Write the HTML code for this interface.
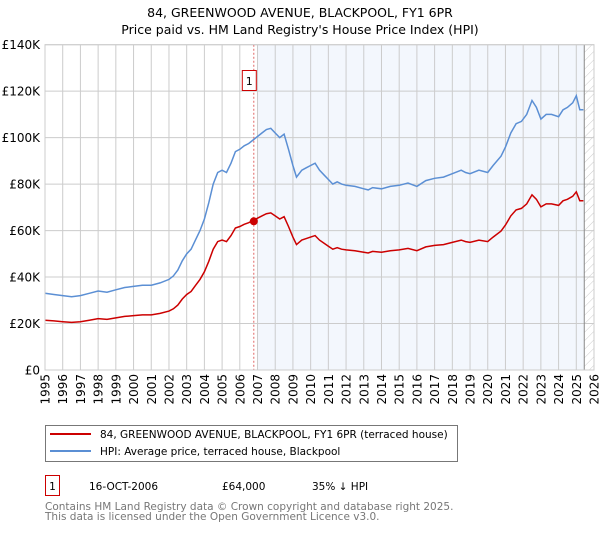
<!DOCTYPE html>
<html><head><meta charset="utf-8"><style>
body{margin:0;background:#fff;font-family:"Liberation Sans","DejaVu Sans",sans-serif;}
svg text{font-family:"DejaVu Sans","Liberation Sans",sans-serif;}
</style></head><body>
<svg id="c" width="600" height="530" xmlns="http://www.w3.org/2000/svg">
<defs><pattern id="hatch" width="6" height="6" patternUnits="userSpaceOnUse" patternTransform="rotate(45)"><line x1="0" y1="0" x2="0" y2="6" stroke="#ccc" stroke-width="1"/></pattern></defs>
<text x="300" y="17" font-size="12.5" text-anchor="middle">84, GREENWOOD AVENUE, BLACKPOOL, FY1 6PR</text>
<text x="300" y="34" font-size="12.5" text-anchor="middle">Price paid vs. HM Land Registry's House Price Index (HPI)</text>
<g id="plot"></g>
<g>
<rect x="45.5" y="425.5" width="412" height="36" fill="#fff" stroke="#777"/>
<line x1="50" y1="434" x2="91" y2="434" stroke="#cc0000" stroke-width="2"/>
<text x="100" y="438" font-size="10.5">84, GREENWOOD AVENUE, BLACKPOOL, FY1 6PR (terraced house)</text>
<line x1="50" y1="451" x2="91" y2="451" stroke="#5b8fd4" stroke-width="2"/>
<text x="100" y="455" font-size="10.5">HPI: Average price, terraced house, Blackpool</text>
</g>
<rect x="45.5" y="475.5" width="14" height="20" fill="#fff" stroke="#cc0000"/>
<text x="52.5" y="490" font-size="10.5" text-anchor="middle">1</text>
<text x="89" y="490" font-size="10.5">16-OCT-2006</text>
<text x="222" y="490" font-size="10.5">£64,000</text>
<text x="312" y="490" font-size="10.5">35% ↓ HPI</text>
<text x="45" y="510" font-size="10.5" fill="#777">Contains HM Land Registry data © Crown copyright and database right 2025.</text>
<text x="45" y="520" font-size="10.5" fill="#777">This data is licensed under the Open Government Licence v3.0.</text>
</svg>
<script>
const years=[1995,1995.5,1996,1996.5,1997,1997.5,1998,1998.5,1999,1999.5,2000,2000.5,2001,2001.5,2002,2002.25,2002.5,2002.75,2003,2003.25,2003.5,2003.75,2004,2004.25,2004.5,2004.75,2005,2005.25,2005.5,2005.75,2006,2006.25,2006.5,2006.75,2007,2007.25,2007.5,2007.75,2008,2008.25,2008.5,2008.75,2009,2009.2,2009.5,2009.75,2010,2010.25,2010.5,2010.75,2011,2011.25,2011.5,2011.75,2012,2012.5,2013,2013.25,2013.5,2014,2014.5,2015,2015.5,2016,2016.5,2017,2017.5,2018,2018.5,2018.75,2019,2019.5,2020,2020.3,2020.75,2021,2021.3,2021.6,2021.9,2022.2,2022.5,2022.75,2023,2023.3,2023.6,2024,2024.25,2024.5,2024.8,2025.0,2025.2,2025.4];
const hpi=[33000,32500,32000,31500,32000,33000,34000,33500,34500,35500,36000,36500,36500,37500,39000,40500,43000,47000,50000,52000,56000,60000,65000,72000,80000,85000,86000,85000,89000,94000,95000,96500,97500,99000,100500,102000,103500,104000,102000,100000,101500,95000,88000,83000,86000,87000,88000,89000,86000,84000,82000,80000,81000,80000,79500,79000,78000,77500,78500,78000,79000,79500,80500,79000,81500,82500,83000,84500,86000,85000,84500,86000,85000,88000,92000,96000,102000,106000,107000,110000,116000,113000,108000,110000,110000,109000,112000,113000,115000,118000,112000,112000];
const price=[21450,21125,20800,20475,20800,21450,22100,21775,22425,23075,23400,23725,23725,24375,25350,26325,27950,30550,32500,33800,36400,39000,42250,46800,52000,55250,55900,55250,57850,61100,61750,62725,63375,64350,65325,66300,67275,67600,66300,65000,65975,61750,57200,53950,55900,56550,57200,57850,55900,54600,53300,52000,52650,52000,51675,51350,50700,50375,51025,50700,51350,51675,52325,51350,52975,53625,53950,54925,55900,55250,54925,55900,55250,57200,59800,62400,66300,68900,69550,71500,75400,73450,70200,71500,71500,70850,72800,73450,74750,76700,72800,72800];
const yTicks=[0,20000,40000,60000,80000,100000,120000,140000];
const yTickLabels=["£0","£20K","£40K","£60K","£80K","£100K","£120K","£140K"];
const xTicks=[1995,1996,1997,1998,1999,2000,2001,2002,2003,2004,2005,2006,2007,2008,2009,2010,2011,2012,2013,2014,2015,2016,2017,2018,2019,2020,2021,2022,2023,2024,2025,2026];
const saleYear=[2006.79];
const salePrice=[64000];
const L=45,R=594,T=44.7,B=370;
const X=y=>L+(y-1995)/(2026-1995)*(R-L);
const Y=v=>B-v/140000*(B-T);
const NS="http://www.w3.org/2000/svg";
const g=document.getElementById('plot');
function mk(t,a){const e=document.createElementNS(NS,t);for(const k in a)e.setAttribute(k,a[k]);g.appendChild(e);return e;}
let e;
e=mk('rect',{x:L,y:T,width:R-L,height:B-T,fill:'#fff'});


e=mk('rect',{x:X(2007),y:T,width:X(2025.45)-X(2007),height:B-T,fill:'#eef3fc',opacity:0.7});


e=mk('rect',{x:X(2025.45),y:T,width:R-X(2025.45),height:B-T,fill:'url(#hatch)'});


yTicks.forEach((v,i)=>{
 e=mk('line',{x1:L,x2:R,y1:Y(v),y2:Y(v),stroke:'#ccc','stroke-width':1});
 
 
 e=mk('text',{x:L-5,y:Y(v)+4.5,'font-size':12,'text-anchor':'end'});e.textContent=yTickLabels[i];
 
 
});
xTicks.forEach(yr=>{
 e=mk('line',{x1:X(yr),x2:X(yr),y1:T,y2:B,stroke:'#ccc','stroke-width':1});
 
 
 e=mk('text',{x:0,y:0,'font-size':12,'text-anchor':'end',transform:`translate(${X(yr)+4.5},${B+4}) rotate(-90)`});e.textContent=yr;
 
 
});
e=mk('line',{x1:X(2025.45),x2:X(2025.45),y1:T,y2:B,stroke:'#888','stroke-width':1});


e=mk('line',{x1:X(saleYear[0]),x2:X(saleYear[0]),y1:T,y2:B,stroke:'#e06666','stroke-width':1,'stroke-dasharray':'2,2'});


const pts=a=>a.map((v,i)=>X(years[i]).toFixed(1)+','+Y(v).toFixed(1)).join(' ');
e=mk('polyline',{points:pts(hpi),fill:'none',stroke:'#5b8fd4','stroke-width':1.5});


e=mk('polyline',{points:pts(price),fill:'none',stroke:'#cc0000','stroke-width':1.5});


e=mk('circle',{cx:X(saleYear[0]),cy:Y(salePrice[0]),r:4,fill:'#cc0000'});


e=mk('rect',{x:X(saleYear[0])-11.5,y:70.5,width:14,height:20,fill:'#fff',stroke:'#cc0000'});


e=mk('text',{x:X(saleYear[0])-4.5,y:85,'font-size':11,'text-anchor':'middle'});e.textContent='1';


e=mk('rect',{x:L,y:T,width:R-L,height:B-T,fill:'none',stroke:'#ccc'});


</script>
</body></html>
